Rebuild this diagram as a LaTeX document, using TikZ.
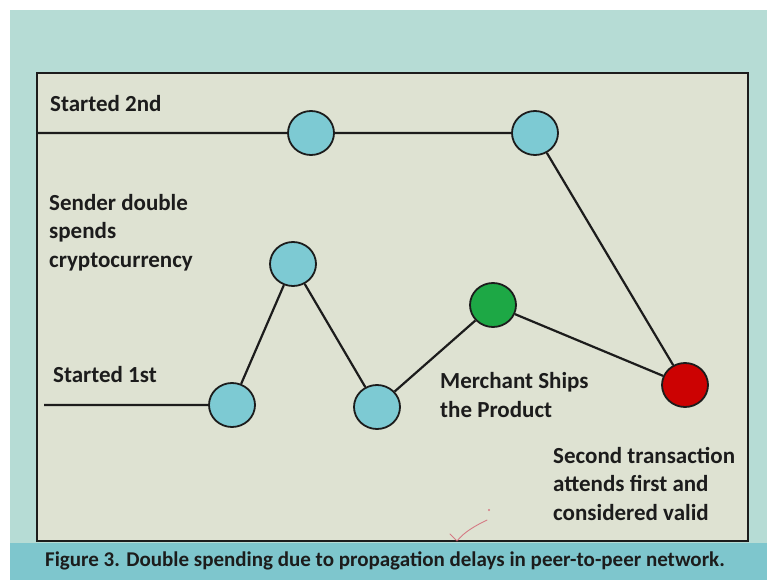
\documentclass[tikz,border=0pt]{standalone}
\usepackage{fontspec}
\setmainfont{Carlito}
\usetikzlibrary{shapes.geometric}
\definecolor{slidebg}{HTML}{B6DCD5}
\definecolor{bandbg}{HTML}{7EC6CD}
\definecolor{panel}{HTML}{DEE2D2}
\definecolor{ink}{HTML}{1C1C1C}
\definecolor{peerblue}{HTML}{7DCAD3}
\definecolor{peergreen}{HTML}{1DA845}
\definecolor{peerred}{HTML}{CC0202}
\definecolor{penred}{HTML}{D2576A}
\begin{document}
\begin{tikzpicture}[x=1pt,y=-1pt,
  peer/.style={ellipse, draw=ink, line width=1.8pt, minimum width=46pt,
    minimum height=44pt, inner sep=0pt, fill=#1},
  link/.style={line width=2.2pt, draw=ink},
  lbl/.style={anchor=base west, inner sep=0pt, align=left, text=ink,
    font=\bfseries\fontsize{23}{28.5}\selectfont}]
  \useasboundingbox (0,0) rectangle (767,580);
  % slide background and caption band
  \fill[white] (0,0) rectangle (767,580);
  \fill[slidebg] (10,10) rectangle (767,580);
  \fill[bandbg] (10,543) rectangle (767,580);
  % framed panel
  \draw[line width=2.8pt, draw=ink, fill=panel] (37,73) rectangle (748,541);

  % peers of the later transaction
  \coordinate (s2) at (37,133);
  \node[peer=peerblue] (a1) at (311,133) {};
  \node[peer=peerblue] (a2) at (535,133) {};
  % peers of the earlier transaction
  \coordinate (s1) at (44,405);
  \node[peer=peerblue] (b1) at (232,405) {};
  \node[peer=peerblue] (b2) at (293,264) {};
  \node[peer=peerblue] (b3) at (377,407) {};
  \node[peer=peergreen] (g) at (493,305) {};
  \node[peer=peerred] (r) at (685,385) {};

  \draw[link] (s2) -- (a1) (a1) -- (a2) (a2) -- (r);
  \draw[link] (s1) -- (b1) (b1) -- (b2) (b2) -- (b3) (b3) -- (g) (g) -- (r);

  % labels (base anchor of a multi-line node sits on its last line)
  \node[lbl] (t2) at (50,112) {Started 2nd};
  \node[lbl] (ds) at (49,267) {Sender double\\spends\\cryptocurrency};
  \node[lbl] (t1) at (53,382) {Started 1st};
  \node[lbl] (ms) at (440,417) {Merchant Ships\\the Product};
  \node[lbl] (st) at (553,520) {Second transaction\\attends first and\\considered valid};

  % caption
  \node[anchor=base, inner sep=0pt, text=ink,
    font=\bfseries\fontsize{21}{24}\selectfont] (cap) at (385,566)
    {Figure 3. Double spending due to propagation delays in peer-to-peer network.};

  % pen tick
  \draw[penred, line width=0.9pt, opacity=0.75, line cap=round]
    (450,534) -- (457,541) .. controls (465,531) and (477,525) .. (487,520);
  \fill[penred, opacity=0.75] (489,510) circle (1.1pt);
\end{tikzpicture}
\end{document}
